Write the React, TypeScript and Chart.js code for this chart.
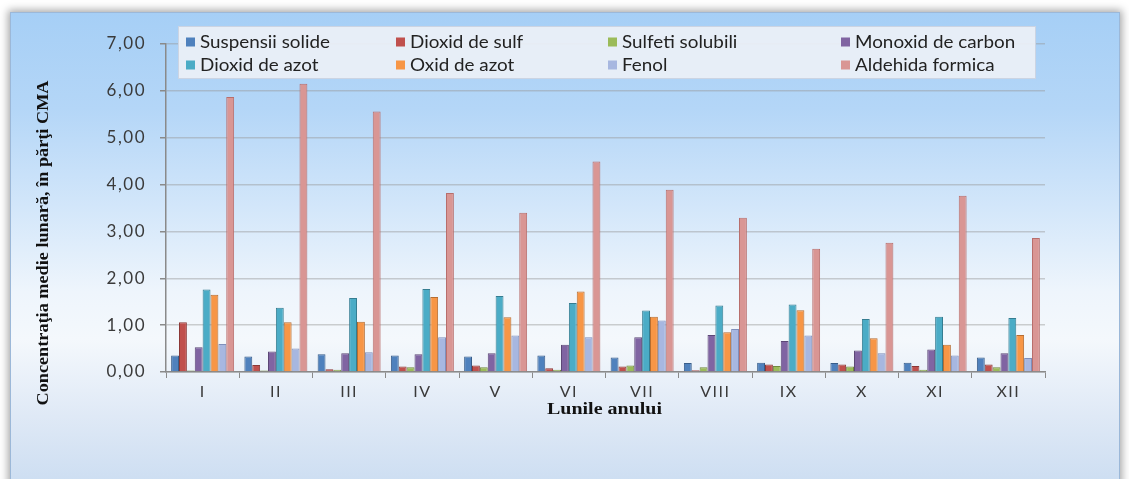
import React, { useEffect, useRef } from "react";
import { Chart, registerables } from "chart.js";

Chart.register(...registerables);

const months = ["I", "II", "III", "IV", "V", "VI", "VII", "VIII", "IX", "X", "XI", "XII"];

const seriesNames = [
  "Suspensii solide",
  "Dioxid de sulf",
  "Sulfeti solubili",
  "Monoxid de carbon",
  "Dioxid de azot",
  "Oxid de azot",
  "Fenol",
  "Aldehida formica",
];

const suspensiiSolide = [0.35, 0.33, 0.38, 0.35, 0.33, 0.35, 0.31, 0.19, 0.2, 0.19, 0.2, 0.31];
const dioxidSulf = [1.06, 0.15, 0.06, 0.12, 0.14, 0.08, 0.12, 0.04, 0.16, 0.16, 0.13, 0.16];
const sulfetiSolubili = [0.03, 0.03, 0.05, 0.1, 0.1, 0.05, 0.14, 0.1, 0.13, 0.12, 0.05, 0.1];
const monoxidCarbon = [0.53, 0.44, 0.4, 0.38, 0.4, 0.58, 0.74, 0.79, 0.66, 0.46, 0.48, 0.4];
const dioxidAzot = [1.76, 1.37, 1.58, 1.77, 1.62, 1.47, 1.31, 1.42, 1.44, 1.13, 1.18, 1.15];
const oxidAzot = [1.65, 1.06, 1.07, 1.6, 1.17, 1.72, 1.18, 0.85, 1.32, 0.72, 0.58, 0.79];
const fenol = [0.6, 0.5, 0.42, 0.74, 0.78, 0.74, 1.1, 0.92, 0.78, 0.4, 0.35, 0.3];
const aldehidaFormica = [5.87, 6.15, 5.56, 3.82, 3.4, 4.49, 3.89, 3.29, 2.63, 2.76, 3.76, 2.86];

const seriesValues = [
  suspensiiSolide,
  dioxidSulf,
  sulfetiSolubili,
  monoxidCarbon,
  dioxidAzot,
  oxidAzot,
  fenol,
  aldehidaFormica,
];

const fillColors = ["#4f81bd", "#c0504d", "#9bbb59", "#8064a2", "#4bacc6", "#f79646", "#a7b7e0", "#d99694"];
const edgeColors = ["#385d8a", "#8c3836", "#71893f", "#5c4776", "#357d91", "#b66d31", "#7f8fbb", "#b86e6c"];

const yTickValues = [0, 1, 2, 3, 4, 5, 6, 7];
const yAxisTitle = "Concentraţia medie lunară, în părţi CMA";
const xAxisTitle = "Lunile anului";

export default function App() {
  const canvasRef = useRef<HTMLCanvasElement>(null);

  useEffect(() => {
    const canvas = canvasRef.current;
    if (!canvas) return;

    const decorPlugin = {
      id: "decor",
      beforeDraw(chart: any) {
        chart.ctx.letterSpacing = "1.5px";
      },
      afterDraw(chart: any) {
        const ctx: CanvasRenderingContext2D = chart.ctx;
        ctx.save();
        ctx.letterSpacing = "0px";

        // Y axis title
        ctx.save();
        ctx.translate(44, 243);
        ctx.rotate(-Math.PI / 2);
        ctx.font = 'bold 16px "Liberation Serif"';
        const wy = ctx.measureText(yAxisTitle).width;
        ctx.scale(325 / wy, 1);
        ctx.fillStyle = "#111111";
        ctx.textAlign = "center";
        ctx.textBaseline = "middle";
        ctx.fillText(yAxisTitle, 0, 0);
        ctx.restore();

        // X axis title
        ctx.save();
        const xa = chart.chartArea;
        ctx.translate((xa.left + xa.right) / 2 - 1, 410);
        ctx.font = 'bold 16px "Liberation Serif"';
        const wx = ctx.measureText(xAxisTitle).width;
        ctx.scale(115 / wx, 1);
        ctx.fillStyle = "#111111";
        ctx.textAlign = "center";
        ctx.textBaseline = "middle";
        ctx.fillText(xAxisTitle, 0, 0);
        ctx.restore();

        // Legend box
        ctx.fillStyle = "rgba(236, 240, 246, 0.93)";
        ctx.fillRect(178, 26, 858, 53);
        ctx.strokeStyle = "rgba(200, 210, 225, 0.9)";
        ctx.lineWidth = 1;
        ctx.strokeRect(178.5, 26.5, 857, 52);

        const colX = [186, 396, 608, 841];
        const rowY = [42, 65];
        ctx.font = '17px Lato';
        const refW = ctx.measureText(seriesNames[0]).width;
        const sx = 130 / refW;
        seriesNames.forEach((name, i) => {
          const col = i % 4;
          const row = Math.floor(i / 4);
          const x = colX[col];
          const y = rowY[row];
          ctx.fillStyle = fillColors[i];
          ctx.fillRect(x, y - 4.5, 9, 9);
          ctx.save();
          ctx.translate(x + 14, y);
          ctx.scale(sx, 1);
          ctx.fillStyle = "#222222";
          ctx.textAlign = "left";
          ctx.textBaseline = "middle";
          ctx.fillText(name, 0, 1);
          ctx.restore();
        });
        ctx.restore();
      },
    };

    const chart = new Chart(canvas, {
      type: "bar",
      data: {
        labels: months,
        datasets: seriesNames.map((name, i) => ({
          label: name,
          data: seriesValues[i],
          backgroundColor: fillColors[i],
          borderColor: edgeColors[i],
          borderWidth: 1,
          categoryPercentage: 0.86,
          barPercentage: 1.0,
        })),
      },
      options: {
        animation: false,
        responsive: true,
        maintainAspectRatio: false,
        layout: { padding: { left: 14, right: 84, top: 44, bottom: 57 } },
        plugins: {
          legend: { display: false },
          tooltip: { enabled: false },
          title: { display: false },
        },
        scales: {
          x: {
            grid: {
              display: true,
              drawOnChartArea: false,
              drawTicks: true,
              tickLength: 6,
              color: "#8a8a8a",
              offset: true,
            },
            border: { display: true, color: "#8a8a8a", width: 1.5 },
            ticks: {
              color: "#3a3a3a",
              font: { family: "Lato", size: 16 },
              padding: 4,
              maxRotation: 0,
            },
            afterFit(scale: any) {
              scale.height = 50;
            },
          },
          y: {
            min: 0,
            max: 7,
            afterBuildTicks(scale: any) {
              scale.ticks = yTickValues.map((v) => ({ value: v }));
            },
            grid: {
              display: true,
              color: "rgba(150, 150, 150, 0.45)",
              lineWidth: 1.5,
              drawTicks: true,
              tickLength: 6,
              tickColor: "#8a8a8a",
            },
            border: { display: true, color: "#8a8a8a", width: 1.5 },
            ticks: {
              color: "#3a3a3a",
              font: { family: "Lato", size: 17 },
              padding: 14,
              callback: (v: any) => Number(v).toFixed(2).replace(".", ","),
            },
            afterFit(scale: any) {
              scale.width = 152;
            },
          },
        },
      },
      plugins: [decorPlugin],
    });

    return () => chart.destroy();
  }, []);

  return (
    <div style={{ position: "absolute", left: 0, top: 0, width: 1129, height: 479, background: "#ffffff", overflow: "hidden" }}>
      <div
        style={{
          position: "absolute",
          left: 10,
          top: 12,
          width: 1108,
          height: 480,
          background:
            "linear-gradient(to bottom, #a6cff6 0%, #b4d6f7 20%, #d2e6fa 40%, #eef5fc 58%, #f4f8fc 68%, #dfe9f6 84%, #cadcf1 100%)",
          boxShadow: "0 0 8px 2px rgba(0,0,0,0.35)",
          border: "1px solid #9cb8d8",
        }}
      />
      <div style={{ position: "absolute", left: 0, top: 0, width: 1129, height: 479 }}>
        <canvas ref={canvasRef} />
      </div>
    </div>
  );
}
